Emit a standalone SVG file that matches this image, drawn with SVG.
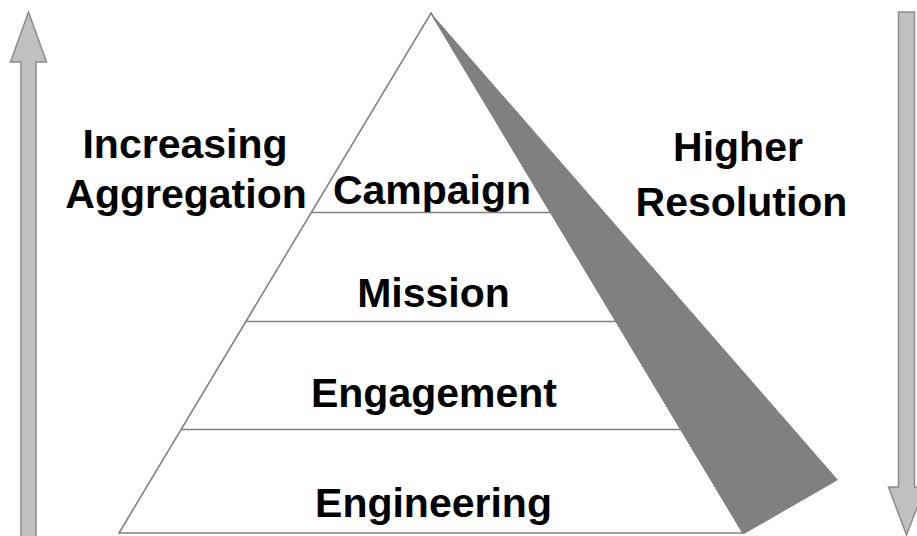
<svg xmlns="http://www.w3.org/2000/svg" width="917" height="536" viewBox="0 0 917 536">
  <style>
    .lbl { font-family: "Liberation Sans", Arial, Helvetica, sans-serif; font-weight: bold; font-size: 41px; fill: #000000; text-anchor: middle; }
    .edge { fill: none; stroke: #808080; stroke-width: 1.6; }
    .arrow { fill: #c0c0c0; stroke: #8c8c8c; stroke-width: 1.5; }
    .shadow { fill: #808080; stroke: none; }
  </style>
  <rect width="917" height="536" fill="#ffffff"/>

  <g id="arrow-up">
    <polygon class="arrow" points="28.5,12 46.5,62 36,62 36,540 21,540 21,62 10.5,62"/>
  </g>
  <g id="arrow-down">
    <polygon class="arrow" points="898.5,12 914.5,12 914.5,487 925,487 906.5,535 888.5,487 898.5,487"/>
  </g>

  <g id="pyramid">
    <polygon class="edge" points="431,13 743,533 119,533"/>
  </g>

  <g id="connectors">
    <line class="edge" x1="311.6" y1="212.5" x2="550.4" y2="212.5"/>
    <line class="edge" x1="246.2" y1="321.5" x2="615.8" y2="321.5"/>
    <line class="edge" x1="181.4" y1="429.5" x2="680.6" y2="429.5"/>
  </g>

  <g id="shadow">
    <polygon class="shadow" points="431,13 838,480 744,534"/>
  </g>

  <g id="campaign">
    <text class="lbl" x="432" y="204">Campaign</text>
  </g>
  <g id="mission">
    <text class="lbl" x="433.5" y="307">Mission</text>
  </g>
  <g id="engagement">
    <text class="lbl" x="434" y="407">Engagement</text>
  </g>
  <g id="engineering">
    <text class="lbl" x="433.5" y="517">Engineering</text>
  </g>

  <g id="increasing-aggregation">
    <text class="lbl" x="185" y="158">Increasing</text>
    <text class="lbl" x="186" y="208">Aggregation</text>
  </g>
  <g id="higher-resolution">
    <text class="lbl" x="738" y="161">Higher</text>
    <text class="lbl" x="741.5" y="216">Resolution</text>
  </g>
</svg>
